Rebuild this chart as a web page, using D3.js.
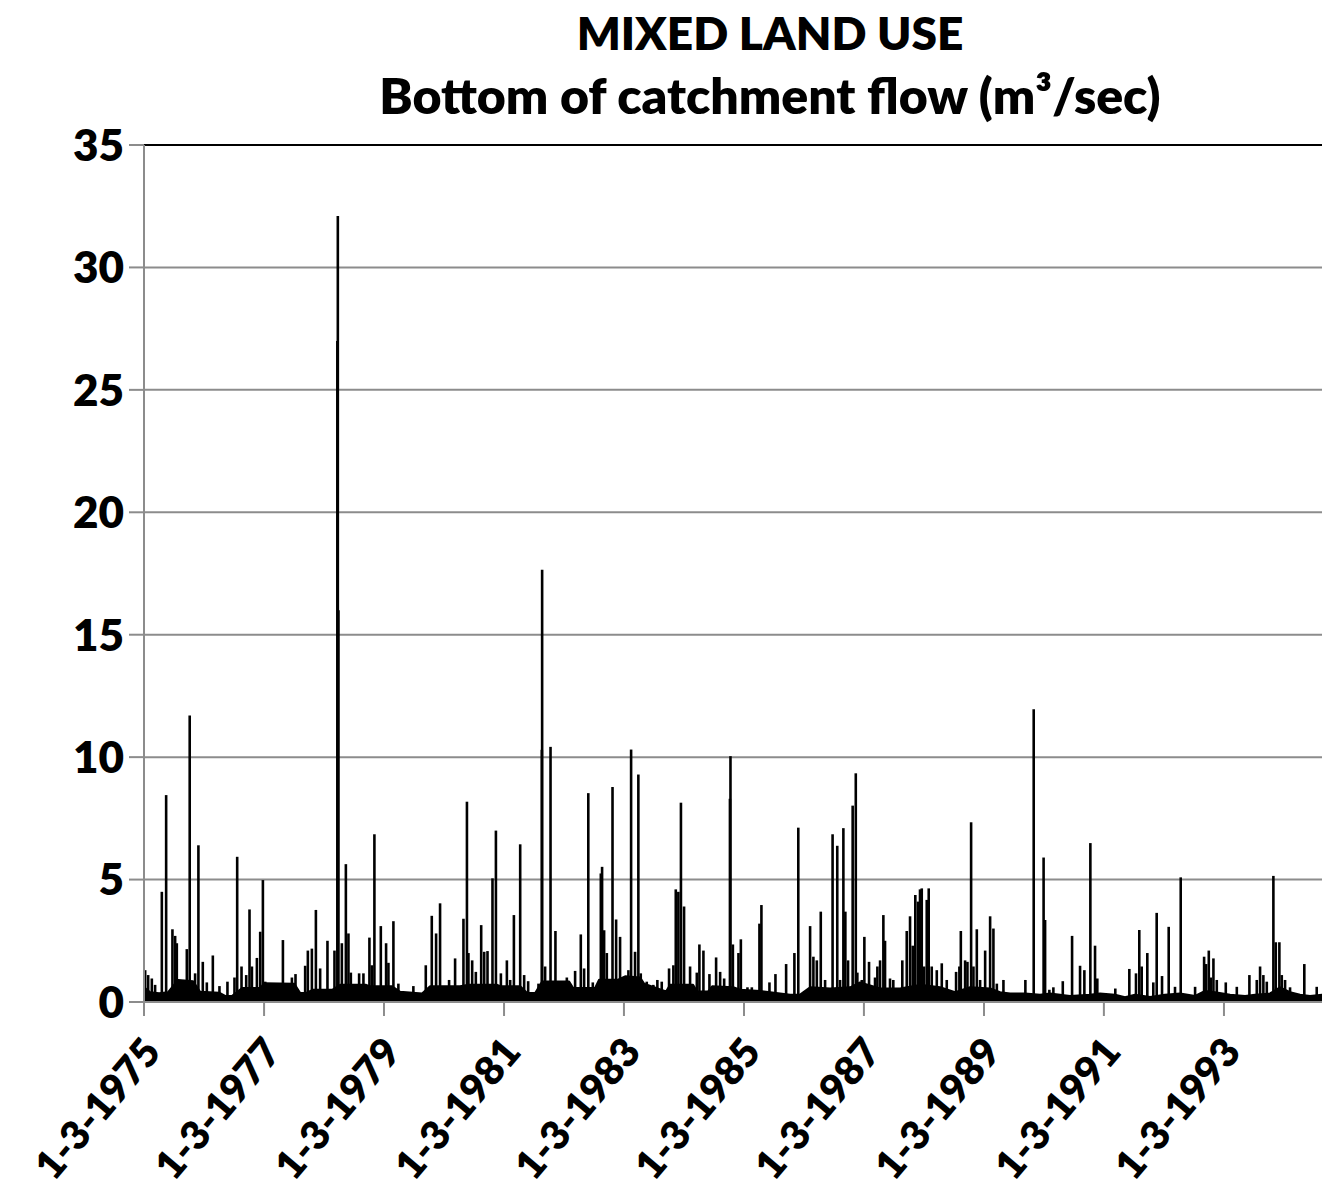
<!DOCTYPE html>
<html><head><meta charset="utf-8">
<script src="https://cdn.jsdelivr.net/npm/d3@7"></script>
<style>
body{margin:0;background:#fff}
text{font-family:Lato,"Open Sans","DejaVu Sans",sans-serif;font-weight:800;fill:#000}
</style>
</head><body>
<svg id="chart" width="1322" height="1187"></svg>
<script>
// ---- data (time in decimal years, flow in m3/sec) ----
const titleLines = ["MIXED LAND USE", "Bottom of catchment flow (m\u00B3/sec)"];
const yTickValues = [0, 5, 10, 15, 20, 25, 30, 35];
const xTickYears = [1975, 1977, 1979, 1981, 1983, 1985, 1987, 1989, 1991, 1993];
const startDate = [1975, 3, 1];
const endTime = 1994.797;

// flood peaks: [decimal year, flow]
const peakEvents = [
[1975.181,1.3],[1975.231,1.1],[1975.292,0.96],[1975.347,0.7],[1975.459,4.5],[1975.531,8.45],
[1975.636,2.97],[1975.681,2.7],[1975.709,2.4],[1975.764,0.9],[1975.836,0.9],[1975.876,2.16],
[1975.924,11.7],[1976.014,1.17],[1976.069,6.4],[1976.142,1.64],[1976.209,0.8],[1976.309,1.9],
[1976.419,0.65],[1976.552,0.83],[1976.669,1.0],[1976.714,5.93],[1976.786,1.45],[1976.864,1.1],
[1976.919,3.78],[1976.959,1.45],[1977.042,1.8],[1977.097,2.87],[1977.142,4.98],[1977.181,0.83],
[1977.297,0.76],[1977.431,0.76],[1977.476,2.53],[1977.542,0.6],[1977.626,1.0],[1977.686,1.14],
[1977.847,1.48],[1977.892,2.1],[1977.959,2.18],[1978.026,3.76],[1978.097,1.37],[1978.219,2.5],
[1978.292,0.49],[1978.336,2.1],[1978.384,27.0],[1978.392,32.1],[1978.402,16.0],[1978.459,2.4],
[1978.526,5.63],[1978.569,2.8],[1978.609,1.2],[1978.681,0.7],[1978.747,1.17],[1978.819,1.17],
[1978.919,2.63],[1978.959,1.5],[1979.002,6.85],[1979.109,3.1],[1979.197,2.4],[1979.236,1.6],
[1979.319,3.3],[1979.402,0.75],[1979.652,0.65],[1979.859,1.5],[1979.959,3.52],[1980.031,2.8],
[1980.097,4.03],[1980.247,0.9],[1980.347,1.78],[1980.486,3.4],[1980.544,8.18],[1980.569,2.0],
[1980.631,1.7],[1980.692,1.23],[1980.781,3.14],[1980.831,2.05],[1980.886,2.08],[1980.969,5.05],
[1981.026,7.0],[1981.109,1.17],[1981.209,1.7],[1981.264,0.9],[1981.326,3.55],[1981.431,6.44],
[1981.497,1.1],[1981.564,0.85],[1981.736,0.75],[1981.792,10.3],[1981.797,17.65],[1981.847,1.45],
[1981.937,10.42],[1982.019,2.9],[1982.097,0.83],[1982.209,1.0],[1982.347,1.27],[1982.442,2.76],
[1982.497,1.37],[1982.567,8.53],[1982.642,0.8],[1982.709,0.55],[1982.776,5.25],[1982.797,5.52],
[1982.831,2.93],[1982.876,2.0],[1982.971,8.78],[1983.031,3.37],[1983.097,2.66],[1983.152,0.9],
[1983.236,1.3],[1983.281,10.31],[1983.347,2.05],[1983.402,9.29],[1983.442,1.17],[1983.542,0.83],
[1983.652,0.7],[1983.719,0.9],[1983.792,0.83],[1983.914,1.37],[1983.986,1.5],[1984.026,4.6],
[1984.069,4.5],[1984.112,8.14],[1984.164,3.9],[1984.264,1.45],[1984.376,1.2],[1984.419,2.35],
[1984.486,2.1],[1984.586,1.14],[1984.697,1.82],[1984.764,1.23],[1984.831,0.96],[1984.927,8.3],
[1984.936,10.04],[1984.976,2.35],[1985.069,2.0],[1985.109,2.56],[1985.219,0.6],[1985.292,0.6],
[1985.419,3.2],[1985.452,3.96],[1985.586,0.8],[1985.686,1.14],[1985.864,1.55],[1986.002,2.0],
[1986.067,7.12],[1986.264,3.1],[1986.319,1.85],[1986.376,1.7],[1986.442,3.69],[1986.514,0.9],
[1986.639,6.85],[1986.717,6.38],[1986.764,0.9],[1986.819,7.1],[1986.852,3.69],[1986.897,1.7],
[1986.974,8.02],[1987.026,9.34],[1987.052,1.2],[1987.126,0.9],[1987.169,2.66],[1987.247,1.64],
[1987.347,1.0],[1987.386,1.45],[1987.431,1.7],[1987.486,3.55],[1987.514,2.5],[1987.597,0.96],
[1987.652,0.9],[1987.802,1.7],[1987.876,2.9],[1987.931,3.5],[1987.976,2.3],[1988.019,4.37],
[1988.064,4.1],[1988.097,4.6],[1988.126,4.64],[1988.164,1.45],[1988.209,4.17],[1988.242,4.64],
[1988.292,1.45],[1988.376,1.3],[1988.459,1.58],[1988.542,0.9],[1988.697,1.23],[1988.752,1.45],
[1988.776,2.9],[1988.847,1.7],[1988.886,1.64],[1988.947,7.34],[1988.986,1.45],[1989.042,2.97],
[1989.097,0.9],[1989.181,2.1],[1989.264,3.5],[1989.319,3.0],[1989.376,0.75],[1989.486,0.9],
[1989.852,0.9],[1989.991,11.96],[1990.156,5.9],[1990.181,3.35],[1990.252,0.5],[1990.319,0.6],
[1990.476,0.85],[1990.631,2.7],[1990.764,1.48],[1990.836,1.3],[1990.936,6.49],[1991.014,2.3],
[1991.052,0.96],[1991.352,0.55],[1991.586,1.35],[1991.697,1.17],[1991.752,2.94],[1991.792,1.45],
[1991.886,2.0],[1991.986,0.8],[1992.042,3.64],[1992.131,1.06],[1992.242,3.07],[1992.347,0.62],
[1992.442,5.09],[1992.681,0.62],[1992.831,1.85],[1992.864,1.55],[1992.909,2.1],[1992.942,1.0],
[1992.986,1.78],[1993.042,0.9],[1993.192,0.8],[1993.376,0.62],[1993.586,1.1],[1993.709,0.9],
[1993.764,1.45],[1993.819,1.1],[1993.876,0.83],[1993.986,5.15],[1994.026,2.44],[1994.086,2.44],
[1994.126,1.1],[1994.181,0.9],[1994.264,0.6],[1994.502,1.55],[1994.709,0.62]
];

// base flow level between events: [decimal year, flow]
const baseflow = [
[1975.164,0.6],[1975.264,0.4],[1975.414,0.36],[1975.564,0.4],[1975.731,0.9],[1975.981,0.85],
[1976.097,0.42],[1976.414,0.38],[1976.514,0.25],[1976.631,0.25],[1976.797,0.57],[1977.097,0.57],
[1977.164,0.77],[1977.664,0.75],[1977.764,0.37],[1977.864,0.37],[1977.981,0.5],[1978.297,0.5],
[1978.431,0.7],[1978.864,0.7],[1978.931,0.64],[1979.297,0.64],[1979.431,0.42],[1979.797,0.35],
[1979.931,0.64],[1980.431,0.64],[1980.547,0.7],[1981.047,0.7],[1981.114,0.64],[1981.431,0.64],
[1981.547,0.37],[1981.681,0.37],[1981.797,0.84],[1982.247,0.84],[1982.314,0.57],[1982.681,0.57],
[1982.747,0.91],[1983.064,0.91],[1983.181,1.05],[1983.431,1.0],[1983.497,0.75],[1983.864,0.43],
[1983.931,0.7],[1984.314,0.7],[1984.381,0.43],[1984.564,0.43],[1984.631,0.64],[1984.981,0.6],
[1985.097,0.5],[1985.431,0.45],[1985.597,0.4],[1985.931,0.3],[1986.097,0.3],[1986.264,0.6],
[1986.597,0.55],[1986.931,0.6],[1987.097,0.8],[1987.431,0.55],[1987.764,0.55],[1988.097,0.7],
[1988.431,0.6],[1988.681,0.4],[1988.931,0.6],[1989.264,0.55],[1989.431,0.4],[1989.597,0.35],
[1989.847,0.35],[1990.097,0.3],[1990.264,0.35],[1990.597,0.25],[1990.931,0.3],[1991.097,0.35],
[1991.347,0.3],[1991.514,0.2],[1991.681,0.3],[1991.931,0.2],[1992.181,0.3],[1992.431,0.35],
[1992.681,0.25],[1992.847,0.45],[1993.014,0.4],[1993.264,0.3],[1993.514,0.25],[1993.681,0.3],
[1993.931,0.35],[1994.097,0.6],[1994.264,0.4],[1994.431,0.3],[1994.597,0.25],[1994.797,0.3]
];

(function(){
function fromDecimal(t){
  const yr = Math.floor(t);
  const a = new Date(yr,0,1), b = new Date(yr+1,0,1);
  return new Date(+a + (t-yr)*(b-a));
}

const svg = d3.select("#chart");
const pLeft = 144, pRight = 1322, pTop = 145, pBottom = 1002;

const x = d3.scaleTime()
  .domain([new Date(startDate[0], startDate[1]-1, startDate[2]), fromDecimal(endTime)])
  .range([pLeft, pRight]);
const y = d3.scaleLinear().domain([0, 35]).range([pBottom, pTop]);

const fmt = d3.timeFormat("%-d-%-m-%Y");
const xTicks = xTickYears.map(yr => new Date(yr, startDate[1]-1, startDate[2]));

// gridlines
svg.append("g").selectAll("line").data(yTickValues.filter(v => v > 0)).join("line")
  .attr("x1", pLeft).attr("x2", pRight)
  .attr("y1", d => y(d)).attr("y2", d => y(d))
  .attr("stroke", d => d === 35 ? "#000" : "#8c8c8c")
  .attr("stroke-width", 2);

// base flow (dense daily record floor)
svg.append("path").datum(baseflow)
  .attr("d", d3.area().x(d => x(fromDecimal(d[0]))).y0(y(0)).y1(d => y(d[1])))
  .attr("fill", "#000").attr("stroke", "#000").attr("stroke-width", 2).attr("stroke-linejoin", "round");

// flow peaks
svg.append("g").selectAll("line").data(peakEvents).join("line")
  .attr("x1", d => x(fromDecimal(d[0]))).attr("x2", d => x(fromDecimal(d[0])))
  .attr("y1", y(0)).attr("y2", d => y(d[1]))
  .attr("stroke", "#000").attr("stroke-width", 2.6);

// axes
const axisG = svg.append("g");
axisG.append("line").attr("x1", pLeft).attr("x2", pLeft).attr("y1", pTop).attr("y2", pBottom)
  .attr("stroke", "#8c8c8c").attr("stroke-width", 2);
axisG.append("line").attr("x1", pLeft).attr("x2", pRight).attr("y1", pBottom).attr("y2", pBottom)
  .attr("stroke", "#8c8c8c").attr("stroke-width", 2);
axisG.selectAll(".yt").data(yTickValues).join("line").attr("class","yt")
  .attr("x1", pLeft-15).attr("x2", pLeft).attr("y1", d => y(d)).attr("y2", d => y(d))
  .attr("stroke", "#8c8c8c").attr("stroke-width", 2);
axisG.selectAll(".xt").data(xTicks).join("line").attr("class","xt")
  .attr("x1", d => x(d)).attr("x2", d => x(d)).attr("y1", pBottom).attr("y2", pBottom+14)
  .attr("stroke", "#8c8c8c").attr("stroke-width", 2);

// y labels
svg.append("g").selectAll("text").data(yTickValues).join("text")
  .attr("x", 124).attr("y", d => y(d)).attr("dy", "0.36em")
  .attr("text-anchor", "end").attr("font-size", 44)
  .text(d => d);

// x labels
svg.append("g").selectAll("text").data(xTicks).join("text")
  .attr("transform", d => `translate(${x(d)+8},${pBottom+42}) rotate(-50)`)
  .attr("text-anchor", "end").attr("dy", "0.35em").attr("font-size", 40)
  .text(d => fmt(d));

// title
const titleSizes = [46, 50];
svg.append("g").selectAll("text").data(titleLines).join("text")
  .attr("x", 770).attr("y", (d,i) => 50 + i*64)
  .attr("text-anchor", "middle").attr("font-size", (d,i) => titleSizes[i])
  .text(d => d);
})();
</script>
</body></html>
